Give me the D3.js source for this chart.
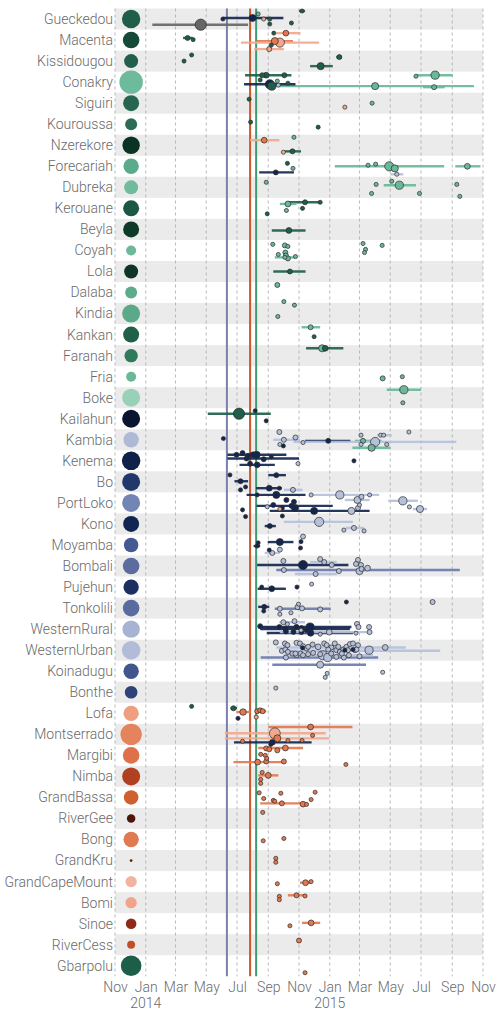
<!DOCTYPE html>
<html><head><meta charset="utf-8">
<script src="https://cdn.jsdelivr.net/npm/d3@7"></script>
<style>
body{margin:0;background:#fff}
text{font-family:Roboto,"Helvetica Neue",Helvetica,Arial,sans-serif;font-weight:300}
</style>
</head><body>
<svg id="chart" width="504" height="1016"></svg>
<script>
// ---------------- DATA ----------------
const districts = ["Gueckedou","Macenta","Kissidougou","Conakry","Siguiri","Kouroussa","Nzerekore","Forecariah","Dubreka","Kerouane","Beyla","Coyah","Lola","Dalaba","Kindia","Kankan","Faranah","Fria","Boke",
"Kailahun","Kambia","Kenema","Bo","PortLoko","Kono","Moyamba","Bombali","Pujehun","Tonkolili","WesternRural","WesternUrban","Koinadugu","Bonthe",
"Lofa","Montserrado","Margibi","Nimba","GrandBassa","RiverGee","Bong","GrandKru","GrandCapeMount","Bomi","Sinoe","RiverCess","Gbarpolu"];
const districtColors = ["#1f5f4a","#144a37","#22604b","#6dba9c","#266650","#2a6c54","#0b3324","#5aab8b","#70bb9d","#1a5843","#0d3a29","#6cb99a","#0e3526","#5cac8c","#5aa988","#1f6049","#2f7a5c","#6bb898","#98d0b8",
"#0a1430","#aeb9d6","#0f2148","#23386a","#7385b5","#112552","#455a92","#5c6c9e","#1d2f60","#5a6ba0","#a6b3d2","#b2bcd8","#41568d","#2e4478",
"#ef9f80","#e5835c","#de7149","#b0401f","#cf6030","#4e160a","#df7a52","#6a1f0e","#f2b49e","#f0a489","#8f2a17","#c24f2a","#1c5e47"];
const districtTotals = [85,69,49,137,64,36,76,59,49,64,64,25,49,36,81,64,45,25,81,
81,59,86,81,81,64,53,69,59,69,76,86,59,40,
59,114,69,81,53,18,59,2,32,32,28,16,106];

const referenceDates = ["2014-06-11","2014-07-27","2014-08-08"];
const referenceColors = ["#7a80ab","#c9582b","#3d9a73"];

const tickDates = ["2013-11-01","2014-01-01","2014-03-01","2014-05-01","2014-07-01","2014-09-01","2014-11-01","2015-01-01","2015-03-01","2015-05-01","2015-07-01","2015-09-01","2015-11-01"];
const yearLabelDates = ["2014-01-01","2015-01-01"];

const palette = {G:"#1f5f4a", g:"#6ab89a", N:"#142650", b:"#b5c0db", B:"#6b7bad", O:"#e2784e", o:"#f2a88c", k:"#666666"};

// [district, date, weight, colour, lane, from, to, lineColour]
const guineaEvents = [
["Gueckedou","2014-11-07",1,"G",-0.38,"2014-11-01","2014-11-13"],
["Gueckedou","2014-08-01",3,"N",-0.05,"2014-06-03","2014-10-01"],
["Gueckedou","2014-06-03",1,"N",0.0],
["Gueckedou","2014-04-20",7.5,"k",0.27,"2014-01-14","2014-07-23"],
["Gueckedou","2014-08-12",1,"g",-0.24],
["Gueckedou","2014-08-23",1,"o",0.0],
["Gueckedou","2014-09-04",1,"G",0.0],
["Gueckedou","2014-09-04",1,"G",0.24],
["Gueckedou","2014-10-17",1,"G",0.19],
["Macenta","2014-03-25",1.5,"G",-0.1,"2014-03-16","2014-04-04"],
["Macenta","2014-04-05",1,"G",-0.02],
["Macenta","2014-09-12",1,"G",-0.33],
["Macenta","2014-10-06",2,"O",-0.33,"2014-09-17","2014-11-04","o"],
["Macenta","2014-09-14",3,"O",0.05,"2014-08-09","2014-10-20"],
["Macenta","2014-09-24",5,"o",0.12,"2014-07-09","2014-12-11"],
["Macenta","2014-09-07",1,"G",0.24],
["Macenta","2014-09-03",1.5,"o",0.43,"2014-08-04","2014-10-02"],
["Kissidougou","2014-04-02",1,"G",-0.29],
["Kissidougou","2014-03-18",1,"G",0],
["Kissidougou","2015-01-20",1.5,"G",-0.19,"2015-01-14","2015-01-25"],
["Kissidougou","2014-12-14",3,"G",0.24,"2014-11-23","2015-01-07"],
["Conakry","2014-08-28",2,"G",-0.33,"2014-07-17","2014-10-17"],
["Conakry","2014-08-20",1.5,"G",-0.33],
["Conakry","2014-10-03",1.5,"G",-0.33],
["Conakry","2015-07-29",4,"g",-0.33,"2015-06-22","2015-09-02"],
["Conakry","2015-06-21",1,"g",-0.28],
["Conakry","2015-04-01",3,"g",0.19,"2014-09-07","2015-10-14"],
["Conakry","2015-07-27",1.5,"g",0.24,"2015-07-05","2015-08-17"],
["Conakry","2014-09-04",5,"N",0.1,"2014-07-15","2014-10-25"],
["Conakry","2014-09-08",4,"G",0.19],
["Conakry","2014-08-16",1,"G",-0.1],
["Conakry","2014-10-10",1,"G",0.05],
["Conakry","2014-09-21",1,"b",0.14],
["Conakry","2014-09-19",1,"g",-0.05],
["Siguiri","2014-07-25",1,"G",-0.19],
["Siguiri","2015-01-31",1,"o",0.19],
["Siguiri","2015-03-26",1,"g",0],
["Kouroussa","2014-07-28",1,"G",-0.1],
["Kouroussa","2014-12-09",1,"G",0.14],
["Nzerekore","2014-08-24",2,"O",-0.24,"2014-07-27","2014-09-23","o"],
["Nzerekore","2014-10-22",1,"g",-0.38],
["Nzerekore","2014-10-19",1.5,"G",0.29,"2014-10-04","2014-11-05"],
["Nzerekore","2014-10-01",1,"o",0.33],
["Forecariah","2014-10-09",1,"G",-0.14],
["Forecariah","2014-10-20",1,"g",0.1],
["Forecariah","2014-09-16",1.5,"N",0.29,"2014-08-14","2014-10-22"],
["Forecariah","2015-04-29",5,"g",0,"2015-01-11","2015-08-16"],
["Forecariah","2015-03-18",1,"g",-0.05],
["Forecariah","2015-04-02",1,"g",-0.1],
["Forecariah","2015-05-10",3,"g",0.1],
["Forecariah","2015-05-14",1,"b",0.38,"2015-05-01","2015-05-27"],
["Forecariah","2015-10-01",2,"g",0,"2015-09-07","2015-10-27"],
["Dubreka","2014-08-28",1,"g",-0.24],
["Dubreka","2015-04-03",1,"g",-0.14],
["Dubreka","2015-05-04",1,"g",-0.29],
["Dubreka","2015-05-19",4,"g",-0.1,"2015-04-18","2015-06-21"],
["Dubreka","2015-09-10",1,"g",-0.14],
["Dubreka","2015-09-16",1,"g",0.43],
["Dubreka","2015-03-25",1,"g",0.29],
["Dubreka","2015-06-28",1,"g",0.29],
["Kerouane","2014-11-13",1.5,"G",-0.29,"2014-10-10","2014-12-13"],
["Kerouane","2014-12-13",1,"G",-0.29],
["Kerouane","2014-10-10",2,"g",-0.21,"2014-09-24","2014-10-27"],
["Kerouane","2014-10-07",1,"g",0.1],
["Kerouane","2014-11-08",1,"G",0],
["Kerouane","2014-08-30",1,"G",0.26],
["Beyla","2014-10-12",2,"G",0.05,"2014-09-08","2014-11-14"],
["Coyah","2014-09-10",1,"g",-0.29],
["Coyah","2014-10-04",1.5,"g",-0.24],
["Coyah","2014-10-10",1,"g",-0.19],
["Coyah","2014-10-05",1.5,"g",0.1],
["Coyah","2014-10-06",1.5,"g",0.24],
["Coyah","2014-09-21",1,"g",0.19],
["Coyah","2014-10-10",1.5,"g",0.38],
["Coyah","2014-10-25",1,"g",0.29],
["Coyah","2014-10-04",1,"g",0.33,"2014-09-14","2014-10-24"],
["Coyah","2015-03-08",1,"g",-0.33],
["Coyah","2015-04-15",1,"g",-0.24],
["Coyah","2015-03-13",1,"g",-0.05],
["Coyah","2015-03-11",1,"g",0.1],
["Lola","2014-10-14",1.5,"G",0,"2014-09-11","2014-11-14"],
["Dalaba","2014-09-19",1.5,"g",-0.36,"2014-09-15","2014-09-23"],
["Dalaba","2014-10-02",1,"g",0.43],
["Kindia","2014-10-23",1,"g",-0.4],
["Kindia","2014-09-20",1,"g",0.14],
["Kankan","2014-11-24",1.5,"g",-0.35,"2014-11-06","2014-12-13"],
["Kankan","2014-12-01",1,"G",0.1],
["Faranah","2014-12-23",2,"G",-0.35,"2014-11-15","2015-01-28"],
["Faranah","2014-12-17",3,"g",-0.35],
["Fria","2015-04-16",1.5,"g",0.08,"2015-04-12","2015-04-20"],
["Fria","2015-05-25",1,"g",0],
["Boke","2015-05-28",4,"g",-0.38,"2015-04-24","2015-07-01"],
["Boke","2015-05-26",1,"g",0.24]
];

const sierraLeoneEvents = [
["Kailahun","2014-07-05",7.5,"G",-0.24,"2014-05-04","2014-09-06"],
["Kailahun","2014-08-06",1,"N",-0.38],
["Kailahun","2014-08-28",1,"N",0.1],
["Kambia","2014-06-04",1,"N",-0.06],
["Kambia","2014-09-23",1.5,"b",-0.37],
["Kambia","2014-10-25",1.5,"b",-0.11],
["Kambia","2014-10-02",1.5,"b",0,"2014-09-11","2014-11-03"],
["Kambia","2014-09-24",1,"b",0.22],
["Kambia","2014-10-01",1,"N",0.29],
["Kambia","2014-11-09",1,"b",0.13],
["Kambia","2014-12-29",1.5,"N",0.05,"2014-11-13","2015-02-11"],
["Kambia","2015-03-08",1.5,"g",0.05,"2015-02-20","2015-04-14"],
["Kambia","2015-03-04",1,"b",-0.22],
["Kambia","2015-04-12",1,"b",-0.22],
["Kambia","2015-04-18",1,"b",-0.22,"2015-04-05","2015-05-04"],
["Kambia","2015-04-01",5,"b",0.1,"2014-10-21","2015-09-09"],
["Kambia","2015-03-04",1,"b",0.22],
["Kambia","2015-04-24",1,"b",0.22],
["Kambia","2015-06-07",1,"b",-0.37],
["Kambia","2015-03-25",3,"g",0.38,"2015-02-15","2015-05-01"],
["Kenema","2014-08-09",3,"N",-0.29,"2014-06-12","2014-10-07"],
["Kenema","2014-07-20",1.5,"N",-0.11,"2014-06-12","2014-11-01"],
["Kenema","2014-06-30",1.5,"N",-0.29],
["Kenema","2014-07-12",1.5,"N",-0.37],
["Kenema","2014-07-23",1.5,"N",-0.24],
["Kenema","2014-08-02",2,"N",-0.29],
["Kenema","2014-08-23",1.5,"N",-0.08],
["Kenema","2014-09-07",1,"N",-0.19],
["Kenema","2014-08-10",2,"N",0.19,"2014-07-06","2014-09-14"],
["Kenema","2014-07-27",1.5,"N",0.14],
["Kenema","2014-10-30",1,"b",0.13],
["Kenema","2015-02-18",1,"N",0],
["Bo","2014-06-17",1,"N",-0.33],
["Bo","2014-09-17",1.5,"N",-0.32,"2014-09-01","2014-10-06"],
["Bo","2014-07-08",1.5,"N",-0.03,"2014-06-26","2014-07-23"],
["Bo","2014-07-18",1,"N",0.24],
["Bo","2014-07-08",1,"N",0.38],
["Bo","2014-09-03",2,"N",0.3,"2014-08-08","2014-09-28"],
["Bo","2014-09-23",1,"N",0.3],
["Bo","2014-10-20",1.5,"b",0.38,"2014-10-02","2014-11-08"],
["PortLoko","2014-09-17",3,"N",-0.38,"2014-07-20","2014-11-14"],
["PortLoko","2014-08-10",1,"N",-0.38],
["PortLoko","2014-11-25",1,"b",-0.38],
["PortLoko","2015-01-21",4,"b",-0.38,"2014-11-23","2015-04-09"],
["PortLoko","2015-03-05",1.5,"b",-0.29],
["PortLoko","2015-02-25",3,"b",-0.14,"2015-01-31","2015-03-21"],
["PortLoko","2015-03-21",1,"b",-0.38],
["PortLoko","2015-05-26",4,"b",-0.1,"2015-04-27","2015-06-25"],
["PortLoko","2015-06-08",1,"b",0.19],
["PortLoko","2015-06-29",3,"b",0.29,"2015-06-15","2015-07-13"],
["PortLoko","2014-07-12",1,"N",0.33],
["PortLoko","2014-10-17",1.5,"N",0.14,"2014-08-09","2015-01-07"],
["PortLoko","2014-10-24",3,"N",0.24],
["PortLoko","2014-12-01",3,"N",0.38,"2014-09-04","2015-03-21"],
["PortLoko","2014-08-30",1,"b",0.18],
["PortLoko","2014-09-11",1.5,"N",0.1],
["PortLoko","2014-09-24",1,"o",0.29],
["PortLoko","2014-09-28",1.5,"N",0.24],
["PortLoko","2014-10-07",1.5,"N",-0.14],
["PortLoko","2014-10-22",1.5,"N",-0.05],
["PortLoko","2015-02-13",3,"b",0.38],
["PortLoko","2015-02-26",1.5,"b",0.24],
["PortLoko","2015-03-01",1,"b",0.1],
["Kono","2014-07-18",1,"N",-0.35],
["Kono","2014-09-29",1,"N",-0.38],
["Kono","2014-12-11",5,"b",-0.1,"2014-10-02","2015-02-16"],
["Kono","2015-02-18",1.5,"b",0.19,"2015-02-02","2015-03-10"],
["Kono","2015-01-29",1,"b",0.29],
["Kono","2015-03-10",1,"b",0.33],
["Kono","2014-09-04",1.5,"N",0.1,"2014-08-25","2014-09-16"],
["Moyamba","2014-09-24",3,"N",-0.14,"2014-08-31","2014-10-21"],
["Moyamba","2014-08-12",1,"N",-0.1],
["Moyamba","2014-11-09",1.5,"b",-0.4],
["Moyamba","2014-11-05",1,"N",-0.16],
["Moyamba","2014-11-04",1,"N",0.14],
["Moyamba","2014-08-10",1,"N",0.05,"2014-08-03","2014-08-16"],
["Moyamba","2014-09-03",1,"N",0.24],
["Moyamba","2014-09-09",1.5,"b",0.38,"2014-08-25","2014-09-24"],
["Moyamba","2014-09-24",1.5,"b",0.22],
["Bombali","2014-10-01",1.5,"b",-0.24],
["Bombali","2014-11-09",5,"N",-0.05,"2014-08-10","2015-02-07"],
["Bombali","2014-12-13",1.5,"b",-0.33],
["Bombali","2014-12-21",1.5,"b",-0.19,"2014-11-23","2015-01-15"],
["Bombali","2015-01-05",1.5,"b",-0.05],
["Bombali","2015-02-26",1.5,"b",-0.29],
["Bombali","2015-02-22",1.5,"b",-0.1],
["Bombali","2015-03-04",1.5,"b",-0.05],
["Bombali","2015-03-17",2,"b",0.1],
["Bombali","2015-03-01",3,"b",0.24],
["Bombali","2015-03-05",1.5,"b",0.14],
["Bombali","2014-10-02",1.5,"b",0.19,"2014-09-17","2015-09-16","B"],
["Bombali","2015-01-19",1.5,"b",0.24],
["Bombali","2014-12-04",1.5,"b",0.38,"2014-10-24","2015-01-15"],
["Pujehun","2014-11-26",1,"b",-0.14],
["Pujehun","2014-09-08",2,"N",0.08,"2014-08-11","2014-10-06"],
["Pujehun","2014-08-19",1,"N",0],
["Pujehun","2014-10-28",1,"N",0],
["Tonkolili","2014-08-24",1.5,"N",-0.06,"2014-08-12","2014-09-03"],
["Tonkolili","2014-08-23",1,"N",0.14],
["Tonkolili","2014-09-24",1.5,"b",0.03,"2014-09-14","2015-01-03","B"],
["Tonkolili","2014-10-29",1.5,"b",-0.05],
["Tonkolili","2014-11-07",1.5,"b",0.01],
["Tonkolili","2014-12-13",1.5,"b",0.06],
["Tonkolili","2014-10-31",1,"b",-0.19],
["Tonkolili","2014-09-24",1,"b",0.29],
["Tonkolili","2014-10-16",1,"b",0.22],
["Tonkolili","2015-02-03",1,"N",-0.29],
["Tonkolili","2015-07-24",1.5,"b",-0.29,"2015-07-19","2015-07-29"],
["WesternRural","2014-10-01",1.5,"b",-0.33,"2014-09-23","2014-11-13"],
["WesternRural","2014-10-23",1.5,"b",-0.38],
["WesternRural","2014-10-09",1,"b",-0.24],
["WesternRural","2014-11-23",4,"N",-0.1,"2014-08-12","2015-02-13"],
["WesternRural","2014-10-05",1.5,"N",-0.01,"2014-08-16","2015-02-10"],
["WesternRural","2014-11-24",2.5,"N",0.18,"2014-08-29","2015-02-16"],
["WesternRural","2014-08-16",1.5,"N",-0.14],
["WesternRural","2014-09-23",1.5,"N",-0.1],
["WesternRural","2014-10-27",1.5,"N",-0.11],
["WesternRural","2014-11-06",1.5,"N",-0.05],
["WesternRural","2014-11-16",1.5,"N",0.05],
["WesternRural","2014-10-06",1.5,"N",0.11],
["WesternRural","2014-10-21",1.5,"N",0.13],
["WesternRural","2014-11-06",1.5,"N",0.14],
["WesternRural","2015-02-24",1.5,"b",-0.25],
["WesternRural","2015-02-27",1.5,"b",-0.1],
["WesternRural","2015-03-20",1.5,"b",-0.1],
["WesternRural","2015-03-21",1.5,"b",0.14],
["WesternRural","2015-02-22",1,"b",0.19],
["WesternRural","2014-12-31",2,"b",0.14,"2014-09-24","2015-03-26"],
["WesternRural","2014-12-13",1,"b",0.24],
["WesternRural","2014-11-05",1,"b",0.05],
["WesternUrban","2015-04-21",2,"b",-0.13,"2014-09-17","2015-06-01"],
["WesternUrban","2014-09-28",1.5,"b",0.03,"2014-09-24","2015-08-08"],
["WesternUrban","2014-12-28",4,"b",0.35,"2014-08-17","2015-04-07","B"],
["WesternUrban","2014-12-18",5,"b",0.24,"2014-10-01","2015-03-28"],
["WesternUrban","2014-09-16",1.5,"b",-0.37],
["WesternUrban","2014-10-04",1.5,"b",-0.32],
["WesternUrban","2014-10-09",1.5,"b",-0.24],
["WesternUrban","2014-10-27",1.5,"b",-0.35],
["WesternUrban","2014-11-03",1.5,"b",-0.32],
["WesternUrban","2014-11-09",1.5,"b",-0.19],
["WesternUrban","2014-11-16",1.5,"b",-0.08],
["WesternUrban","2014-11-19",1.5,"b",-0.16],
["WesternUrban","2014-11-28",1.5,"b",-0.27],
["WesternUrban","2014-12-09",2,"b",-0.16],
["WesternUrban","2014-12-21",1.5,"b",-0.32],
["WesternUrban","2014-12-26",1.5,"b",-0.24],
["WesternUrban","2015-01-04",1.5,"b",-0.13],
["WesternUrban","2015-01-11",1.5,"b",-0.32],
["WesternUrban","2015-01-14",1.5,"b",0],
["WesternUrban","2015-01-21",1.5,"b",0.08],
["WesternUrban","2015-01-28",1.5,"b",-0.03],
["WesternUrban","2015-02-03",1.5,"b",-0.16],
["WesternUrban","2015-02-10",1.5,"b",-0.29],
["WesternUrban","2015-02-16",1.5,"b",-0.32],
["WesternUrban","2015-02-20",1.5,"b",0],
["WesternUrban","2015-02-26",1.5,"b",-0.24],
["WesternUrban","2014-10-05",1.5,"b",-0.03],
["WesternUrban","2014-10-10",1.5,"b",0.08],
["WesternUrban","2014-10-19",1.5,"b",0.16],
["WesternUrban","2014-10-27",1.5,"b",0.24],
["WesternUrban","2014-11-04",1.5,"b",0.16],
["WesternUrban","2014-11-09",1.5,"b",0.24],
["WesternUrban","2014-11-19",1.5,"b",0.19],
["WesternUrban","2014-11-29",1.5,"b",0.13],
["WesternUrban","2014-12-13",1.5,"b",0.19],
["WesternUrban","2015-01-04",1.5,"b",0.16],
["WesternUrban","2015-01-14",1.5,"b",0.32],
["WesternUrban","2015-01-29",1.5,"b",0.35],
["WesternUrban","2015-02-08",1.5,"b",0.24],
["WesternUrban","2015-03-01",1.5,"b",0.29],
["WesternUrban","2015-03-20",4,"b",0],
["WesternUrban","2014-10-06",1.5,"b",0.35],
["WesternUrban","2014-10-25",1.5,"b",0.16],
["WesternUrban","2014-12-29",1.5,"b",-0.03],
["WesternUrban","2015-01-18",1.5,"b",-0.16],
["WesternUrban","2015-01-25",1.5,"b",0.16],
["WesternUrban","2015-02-06",1.5,"b",0],
["WesternUrban","2015-02-23",1.5,"b",-0.03],
["WesternUrban","2014-11-08",1,"N",-0.11],
["WesternUrban","2015-01-31",1,"N",0],
["WesternUrban","2015-02-16",1,"N",-0.03],
["Koinadugu","2014-12-13",3,"b",-0.31,"2014-09-09","2015-03-14","B"],
["Koinadugu","2015-04-16",1,"b",0.05],
["Koinadugu","2014-12-27",1,"b",0.1],
["Koinadugu","2014-12-23",1,"b",0.29],
["Bonthe","2014-09-16",1,"b",-0.2]
];

const liberiaEvents = [
["Lofa","2014-04-02",1,"G",-0.33],
["Lofa","2014-06-24",1.5,"G",-0.24,"2014-06-18","2014-07-01"],
["Lofa","2014-07-13",2.5,"O",-0.06,"2014-06-30","2014-07-28"],
["Lofa","2014-08-10",1.5,"O",-0.1,"2014-08-06","2014-08-28"],
["Lofa","2014-08-16",1.5,"O",-0.14],
["Lofa","2014-08-21",1.5,"O",-0.1],
["Lofa","2014-07-03",1,"N",0.24],
["Lofa","2014-08-08",1,"o",0.18,"2014-08-04","2014-08-13"],
["Montserrado","2014-11-24",2,"O",-0.35,"2014-09-01","2015-02-15"],
["Montserrado","2014-09-14",7,"o",-0.05,"2014-06-07","2014-12-24"],
["Montserrado","2014-09-19",3,"O",0.19,"2014-06-07","2014-12-31","o"],
["Montserrado","2014-07-12",1,"O",0.33],
["Montserrado","2014-11-28",1,"O",0.05],
["Montserrado","2014-10-10",1,"O",0.29],
["Montserrado","2014-11-07",1,"O",0.29],
["Montserrado","2014-09-09",2,"N",0.38,"2014-06-25","2014-11-26"],
["Montserrado","2014-09-06",1,"N",0.48],
["Margibi","2014-10-05",2,"O",-0.35,"2014-08-12","2014-11-09"],
["Margibi","2014-08-28",1.5,"O",-0.33],
["Margibi","2014-09-03",1.5,"O",-0.29],
["Margibi","2014-09-19",1.5,"O",-0.24],
["Margibi","2014-08-17",1,"O",-0.05],
["Margibi","2014-08-26",1,"O",0],
["Margibi","2014-08-29",1,"O",0.14],
["Margibi","2014-08-11",2,"O",0.32,"2014-06-24","2014-10-04"],
["Margibi","2014-08-28",1.5,"O",0.29],
["Margibi","2014-10-02",1.5,"O",0.29],
["Margibi","2015-02-02",1,"O",0.43],
["Nimba","2014-08-20",1,"O",-0.19],
["Nimba","2014-09-01",2,"O",-0.05,"2014-08-12","2014-09-21"],
["Nimba","2014-08-17",1,"O",0.14],
["Nimba","2014-08-17",1,"O",0.33],
["GrandBassa","2014-08-14",1,"O",-0.22],
["GrandBassa","2014-09-26",1,"O",-0.2],
["GrandBassa","2014-12-03",1,"O",-0.25],
["GrandBassa","2014-08-23",1,"O",0.05],
["GrandBassa","2014-09-11",1,"O",0.14],
["GrandBassa","2014-11-25",1,"O",0.1],
["GrandBassa","2014-09-28",1.5,"O",0.28,"2014-08-16","2014-11-16"],
["GrandBassa","2014-11-09",2,"O",0.32],
["GrandBassa","2014-11-16",1,"O",0.33],
["GrandBassa","2014-09-14",1,"O",0.18],
["RiverGee","2014-08-21",1,"O",-0.29],
["Bong","2014-08-22",1,"O",0.06],
["Bong","2014-10-02",1,"O",-0.05],
["GrandKru","2014-09-16",1,"O",-0.11],
["GrandKru","2014-09-16",1,"O",0.08],
["GrandCapeMount","2014-09-19",1,"O",0.1],
["GrandCapeMount","2014-11-14",2,"O",0.05,"2014-11-03","2014-11-23"],
["GrandCapeMount","2014-11-25",1,"O",0],
["Bomi","2014-09-23",1,"O",-0.3],
["Bomi","2014-09-23",1,"O",-0.14],
["Bomi","2014-10-27",1.5,"O",-0.35,"2014-10-10","2014-11-14"],
["Bomi","2014-11-13",1,"O",-0.32],
["Sinoe","2014-10-14",1,"O",0.1],
["Sinoe","2014-11-25",2,"O",-0.04,"2014-11-07","2014-12-13"],
["RiverCess","2014-11-01",1.5,"O",-0.2],
["Gbarpolu","2014-11-13",1,"O",0.33]
];

// ---------------- CHART ----------------
const parse = d3.timeParse("%Y-%m-%d");
const svg = d3.select("#chart");
const FONT = "Roboto, 'Helvetica Neue', Helvetica, Arial, sans-serif";

const x = d3.scaleTime().domain([parse("2013-11-01"), parse("2015-11-01")]).range([115, 483]);
const y = d3.scaleBand().domain(districts).range([8.5, 976.3]).padding(0);
const bw = y.bandwidth();
const lane = d3.scaleLinear().domain([-0.5, 0.5]).range([0, bw]);
const rEvent = d3.scaleSqrt().domain([0, 1]).range([0, 2.05]);
const rTotal = d3.scaleSqrt().domain([0, 137]).range([0, 11.7]);
const summaryDate = parse("2013-12-03");

const events = guineaEvents.concat(sierraLeoneEvents, liberiaEvents).map(e => ({
  district: e[0], date: parse(e[1]), w: e[2], col: palette[e[3]], lane: e[4],
  from: e[5] ? parse(e[5]) : null, to: e[6] ? parse(e[6]) : null,
  lineCol: palette[e[7] || e[3]]
}));

// bands
svg.append("g").selectAll("rect").data(districts.filter((d, i) => i % 2 === 0)).join("rect")
  .attr("x", x.range()[0]).attr("width", x.range()[1] - x.range()[0])
  .attr("y", d => y(d)).attr("height", bw).attr("fill", "#ebebeb");

// grid
const ticks = tickDates.map(parse);
svg.append("g").selectAll("line").data(ticks).join("line")
  .attr("x1", d => x(d)).attr("x2", d => x(d))
  .attr("y1", y.range()[0]).attr("y2", y.range()[1])
  .attr("stroke", "#a8a8a8").attr("stroke-width", 0.8).attr("stroke-dasharray", "3,3");

// reference lines
svg.append("g").selectAll("line").data(referenceDates).join("line")
  .attr("x1", d => x(parse(d))).attr("x2", d => x(parse(d)))
  .attr("y1", y.range()[0]).attr("y2", y.range()[1])
  .attr("stroke", (d, i) => referenceColors[i]).attr("stroke-width", 2);

// intervals
svg.append("g").selectAll("line").data(events.filter(e => e.from)).join("line")
  .attr("x1", e => x(e.from)).attr("x2", e => x(e.to))
  .attr("y1", e => y(e.district) + lane(e.lane)).attr("y2", e => y(e.district) + lane(e.lane))
  .attr("stroke", e => e.lineCol).attr("stroke-width", 2.4).attr("stroke-opacity", 0.92);

// district summary circles
svg.append("g").selectAll("circle").data(districts).join("circle")
  .attr("cx", x(summaryDate)).attr("cy", d => y(d) + bw / 2)
  .attr("r", (d, i) => rTotal(districtTotals[i]))
  .attr("fill", (d, i) => districtColors[i]);

// points
svg.append("g").selectAll("circle").data(events.slice().sort((a, b) => b.w - a.w)).join("circle")
  .attr("cx", e => x(e.date)).attr("cy", e => y(e.district) + lane(e.lane))
  .attr("r", e => rEvent(e.w)).attr("fill", e => e.col)
  .attr("stroke", "#2b2b2b").attr("stroke-width", 0.7);

// row labels
svg.append("g").selectAll("text").data(districts).join("text")
  .attr("x", 113).attr("y", d => y(d) + bw / 2).attr("dy", "0.35em")
  .attr("text-anchor", "end").attr("font-size", 14).attr("fill", "#6a6a6a")
  .attr("font-family", FONT).attr("font-weight", 300).text(d => d);

// axis (months)
const axis = svg.append("g").attr("transform", `translate(0,${y.range()[1]})`)
  .call(d3.axisBottom(x).tickValues(ticks).tickSize(0).tickPadding(5.5).tickFormat(d3.timeFormat("%b")));
axis.select(".domain").remove();
axis.selectAll("text").attr("font-size", 14).attr("fill", "#6a6a6a")
  .attr("font-family", FONT).attr("font-weight", 300);

// year labels
svg.append("g").selectAll("text").data(yearLabelDates.map(parse)).join("text")
  .attr("x", d => x(d)).attr("y", 1008).attr("text-anchor", "middle")
  .attr("font-size", 14).attr("fill", "#6a6a6a")
  .attr("font-family", FONT).attr("font-weight", 300)
  .text(d => d3.timeFormat("%Y")(d));
</script>
</body></html>
